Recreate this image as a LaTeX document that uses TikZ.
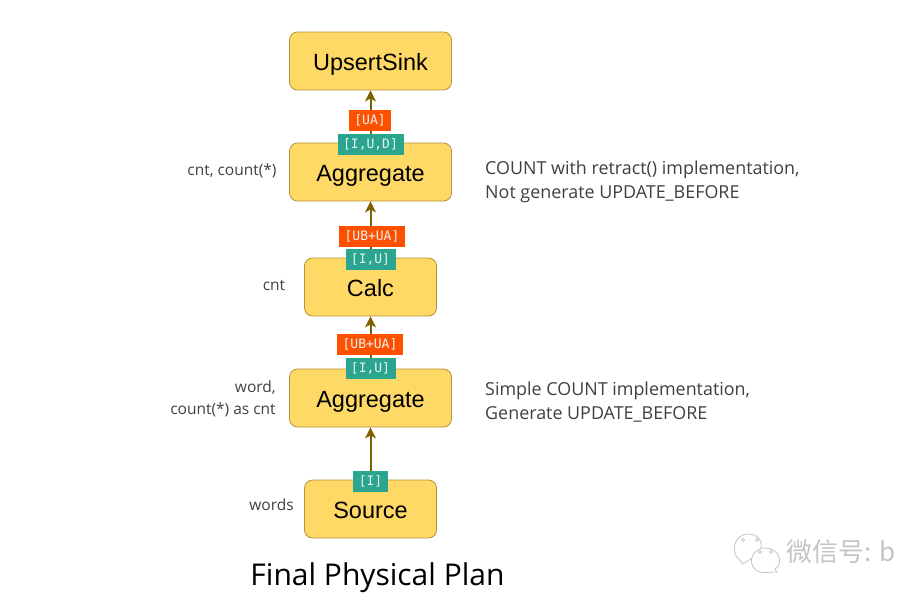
\documentclass[tikz,border=0pt]{standalone}
\usepackage{fontspec}
\setmainfont{Open Sans}
\setsansfont{Liberation Sans}
\setmonofont{DejaVu Sans Mono}
\newfontfamily\cjk{Noto Sans CJK SC}
\usetikzlibrary{arrows.meta}
\definecolor{boxfill}{HTML}{FFD966}
\definecolor{boxline}{HTML}{B8923A}
\definecolor{linkcol}{HTML}{7F6000}
\definecolor{tagorange}{HTML}{FF5000}
\definecolor{taggreen}{HTML}{2BA58F}
\definecolor{tagtxt}{HTML}{E8F4F0}
\definecolor{txt}{HTML}{404040}
\definecolor{wm}{HTML}{C4C4C4}
\tikzset{x=1pt,y=-1pt,
 opbox/.style={draw=boxline,line width=.8pt,fill=boxfill,rounded corners=8pt,minimum height=58pt,font=\sffamily\fontsize{23.5}{25}\selectfont,text=black,inner sep=0pt,text height=23pt,text depth=5pt},
 tag/.style={text=tagtxt,font=\ttfamily\fontsize{13}{14}\selectfont,inner sep=0pt,minimum height=21pt},
 orange/.style={tag,fill=tagorange},
 green/.style={tag,fill=taggreen},
 link/.style={draw=linkcol,line width=2pt,-{Stealth[length=11pt,width=11pt,inset=3pt]}},
 side/.style={text=txt,font=\fontsize{15.5}{21.5}\selectfont,align=right,inner sep=0pt},
 note/.style={text=txt,font=\fontsize{17.9}{24}\selectfont,align=left,anchor=west,inner sep=0pt},
 bubble/.style={draw=wm,line width=.8pt,fill=white}}
\begin{document}
\begin{tikzpicture}
\useasboundingbox (0,0) rectangle (900,592);
\node[opbox,minimum width=162pt] (sink) at (370.5,61) {UpsertSink};
\node[opbox,minimum width=162pt] (agg2) at (370.5,172) {Aggregate};
\node[opbox,minimum width=132pt] (calc) at (370.5,287) {Calc};
\node[opbox,minimum width=162pt] (agg1) at (370.5,398) {Aggregate};
\node[opbox,minimum width=132pt] (src) at (370.5,509) {Source};
\draw[link] (agg2) -- (sink);
\draw[link] (calc) -- (agg2);
\draw[link] (agg1) -- (calc);
\draw[link] (src) -- (agg1);
\node[orange,minimum width=42pt] at (370,120.5) {[UA]};
\node[green,minimum width=66pt] at (370.5,144) {[I,U,D]};
\node[orange,minimum width=66pt] at (372,236) {[UB+UA]};
\node[green,minimum width=50pt] at (370.5,259.5) {[I,U]};
\node[orange,minimum width=66pt] at (370,344.5) {[UB+UA]};
\node[green,minimum width=50pt] at (370.5,368) {[I,U]};
\node[green,minimum width=35pt] at (370.5,481.5) {[I]};
\node[side] (s1) at (232,171) {cnt, count(*)};
\node[side] (s2) at (274,285) {cnt};
\node[side] (s3) at (223,399) {word,\\count(*) as cnt};
\node[side] (s4) at (271.5,505) {words};
\node[note] (n1) at (485,182) {COUNT with retract() implementation,\\Not generate UPDATE\_BEFORE};
\node[note] (n2) at (485,402) {Simple COUNT implementation,\\Generate UPDATE\_BEFORE};
\node[text=black,font=\fontsize{30}{34}\selectfont,inner sep=0pt] (title) at (377.5,578) {Final Physical Plan};
\draw[bubble] (739,559) .. controls (731,554) and (733,534) .. (748,534) .. controls (764,534) and (766,552) .. (752,558) -- (743,564) -- cycle;
\draw[bubble] (765,548) .. controls (750,548) and (746,568) .. (760,572) .. controls (765,573) and (772,572) .. (774,572) -- (777,572) -- (775,569) .. controls (785,562) and (778,548) .. (765,548) -- cycle;
\foreach \p in {(743,540),(757,540),(760,552),(771,552)}
  \draw[wm,line width=.7pt] \p circle (1.6pt);
\node[text=wm,font=\cjk\fontsize{26}{28}\selectfont,anchor=west,inner sep=0pt] (wmark) at (786,552) {微信号: b};
\end{tikzpicture}
\end{document}
